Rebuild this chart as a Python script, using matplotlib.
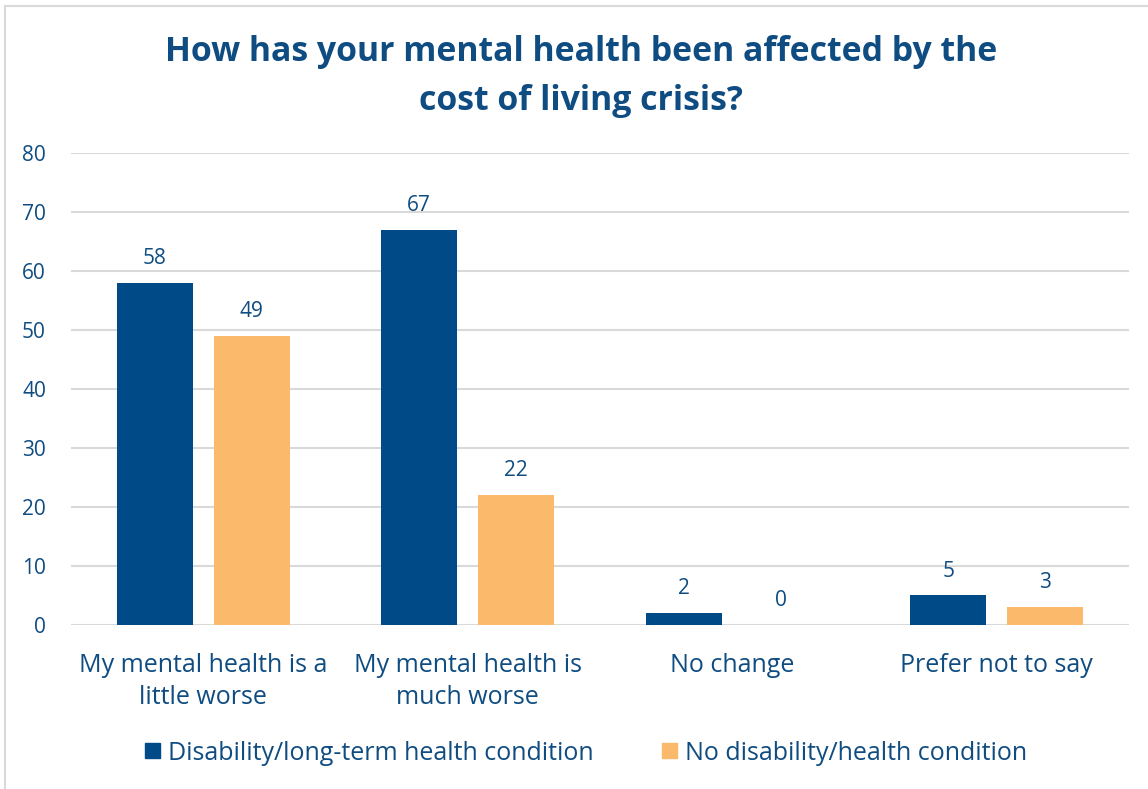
import matplotlib
matplotlib.use("Agg")
from matplotlib import pyplot as plt
from matplotlib.patches import Rectangle
import numpy as np

categories = ["My mental health is a\nlittle worse", "My mental health is\nmuch worse",
              "No change", "Prefer not to say"]
disability = [58, 67, 2, 5]
no_disability = [49, 22, 0, 3]
series_names = ["Disability/long-term health condition", "No disability/health condition"]
y_ticks = [0, 10, 20, 30, 40, 50, 60, 70, 80]

navy = "#004a87"
orange = "#fbb96b"
text_blue = "#0f4c81"
grid_grey = "#d9d9d9"

plt.rcParams["font.family"] = ["Open Sans", "DejaVu Sans"]

fig = plt.figure(figsize=(11.48, 7.89), dpi=100)
ax = fig.add_axes([0.0618, 0.2079, 0.9216, 0.5982])

x = np.arange(len(categories))
off = 0.183
w = 0.287
b1 = ax.bar(x - off, disability, w, color=navy, zorder=3)
b2 = ax.bar(x + off, no_disability, w, color=orange, zorder=3)

for bars, vals in ((b1, disability), (b2, no_disability)):
    for rect, v in zip(bars, vals):
        ax.annotate(str(v), (rect.get_x() + rect.get_width() / 2, v),
                    xytext=(0, 17.5), textcoords="offset points",
                    ha="center", va="center", fontsize=15, color=text_blue)

ax.set_xlim(-0.5, len(categories) - 0.5)
ax.set_ylim(0, 80)
ax.set_yticks(y_ticks)
ax.set_xticks(x)
ax.set_xticklabels(categories, fontsize=18, color=text_blue, linespacing=1.38)
ax.tick_params(axis="y", labelsize=15, colors=text_blue, length=0, pad=18)
ax.tick_params(axis="x", length=0, pad=20)
ax.grid(axis="y", color=grid_grey, linewidth=1.5, zorder=0)
for s in ax.spines.values():
    s.set_visible(False)

fig.text(0.506, 0.903, "How has your mental health been affected by the\ncost of living crisis?",
         ha="center", va="center", fontsize=24.4, fontweight="bold", color=text_blue,
         linespacing=1.56)

# legend drawn by hand to keep the square markers tight
leg_y = 753
for px, color, name in ((145, navy, series_names[0]), (662, orange, series_names[1])):
    fig.patches.append(Rectangle((px / 1148, 1 - (leg_y + 5) / 789), 15 / 1148, 15 / 789,
                                 transform=fig.transFigure, color=color))
    fig.text((px + 23) / 1148, 1 - leg_y / 789, name, ha="left", va="center",
             fontsize=18, color=text_blue)

# outer frame
fig.add_artist(plt.Line2D([5 / 1148, 5 / 1148], [0, 1 - 6 / 789], color=grid_grey,
                          linewidth=1.5, transform=fig.transFigure))
fig.add_artist(plt.Line2D([5 / 1148, 1], [1 - 6 / 789, 1 - 6 / 789], color=grid_grey,
                          linewidth=1.5, transform=fig.transFigure))

fig.savefig("out.png", dpi=100, facecolor="white")
